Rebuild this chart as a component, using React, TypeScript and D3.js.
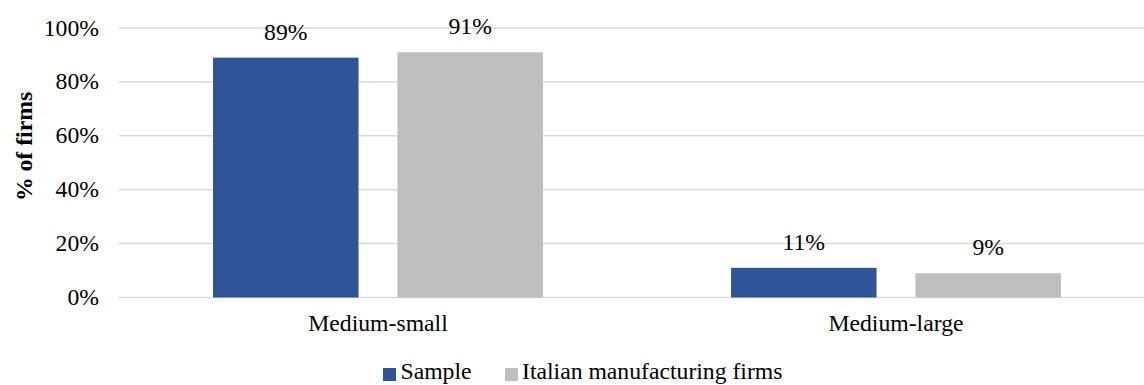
import React from "react";
import * as d3 from "d3";

const categories = ["Medium-small", "Medium-large"];
const seriesNames = ["Sample", "Italian manufacturing firms"];
const sampleValues = [89, 11];
const italianValues = [91, 9];
const yTicks = [0, 20, 40, 60, 80, 100];

const colors = ["#2F5597", "#BFBFBF"];
const W = 1144;
const H = 385;
const FONT = "'Liberation Serif', 'Times New Roman', serif";

export default function App() {
  const plot = { left: 119, right: 1155, top: 28, bottom: 297.5 };
  const x0 = d3.scaleBand<string>().domain(categories).range([plot.left, plot.right]).padding(0);
  const x1 = d3
    .scaleBand<string>()
    .domain(seriesNames)
    .range([0, x0.bandwidth()])
    .paddingInner(0.211)
    .paddingOuter(0.51);
  const y = d3.scaleLinear().domain([0, 100]).range([plot.bottom, plot.top]);
  const series = [sampleValues, italianValues];
  const txt = { fontFamily: FONT, fontSize: 23.7, fill: "#000" };

  return (
    <svg
      width={W}
      height={H}
      style={{ position: "absolute", left: 0, top: 0, display: "block", background: "#fff", fontFamily: FONT }}
    >
      {yTicks.map((t) => (
        <g key={t}>
          <line x1={plot.left} x2={W} y1={y(t)} y2={y(t)} stroke="#D9D9D9" strokeWidth={1.5} />
          <text x={99} y={y(t)} dy="0.32em" textAnchor="end" style={txt}>
            {t}%
          </text>
        </g>
      ))}
      {categories.map((c, ci) => (
        <g key={c}>
          {seriesNames.map((s, si) => {
            const v = series[si][ci];
            const bx = (x0(c) ?? 0) + (x1(s) ?? 0);
            return (
              <g key={s}>
                <rect x={bx} y={y(v)} width={x1.bandwidth()} height={y(0) - y(v)} fill={colors[si]} />
                <text x={bx + x1.bandwidth() / 2} y={y(v) - 18} textAnchor="middle" style={txt}>
                  {v}%
                </text>
              </g>
            );
          })}
          <text x={(x0(c) ?? 0) + x0.bandwidth() / 2} y={331} textAnchor="middle" style={txt}>
            {c}
          </text>
        </g>
      ))}
      <text
        transform="translate(31.5,146.5) rotate(-90)"
        textAnchor="middle"
        style={{ ...txt, fontWeight: "bold" }}
      >
        % of firms
      </text>
      <g>
        <rect x={383} y={368} width={13} height={13} fill={colors[0]} />
        <text x={400.5} y={379} style={txt}>{seriesNames[0]}</text>
        <rect x={505} y={368} width={13} height={13} fill={colors[1]} />
        <text x={522} y={379} style={txt}>{seriesNames[1]}</text>
      </g>
    </svg>
  );
}
